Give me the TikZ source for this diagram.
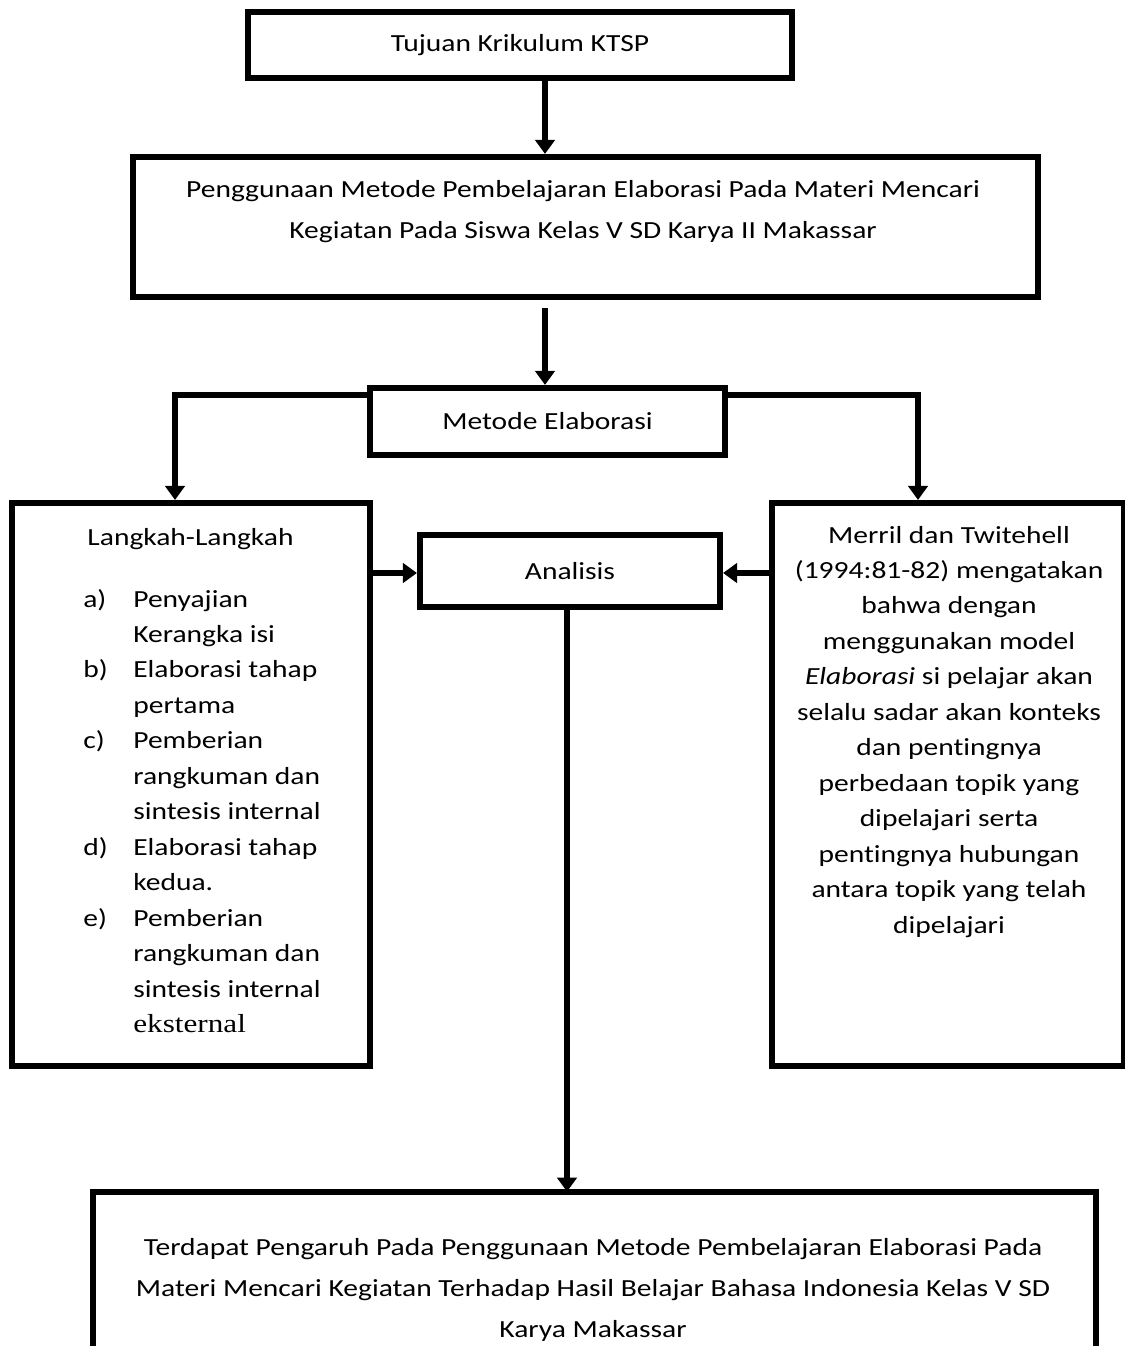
\documentclass[tikz,border=0pt]{standalone}
\usepackage{fontspec}
\setmainfont{Carlito}[FakeStretch=1.2,Ligatures=NoCommon,RawFeature={-calt}]
\newfontfamily\tnrfont{Liberation Serif}[FakeStretch=1.2]
\usetikzlibrary{arrows.meta,calc}
\newcommand\fmid{\fontsize{14}{20.2}\selectfont}
\newcommand\ftop{\fontsize{14}{23.6}\selectfont}
\begin{document}
\begin{tikzpicture}[x=0.02cm,y=-0.02cm,
  box/.style={draw, line width=3.5pt, inner sep=0pt, rectangle},
  txt/.style={inner sep=0pt, font=\fmid},
  arr/.style={line width=3.5pt, line join=miter, -{Triangle[length=8pt,width=11pt]}},
  plain/.style={line width=3.5pt, line join=miter}]
\useasboundingbox (0,0) rectangle (1125,1346);
% boxes
\node[box, minimum width=10.88cm, minimum height=1.32cm, font=\ftop] (box1) at (520,45) {Tujuan Krikulum KTSP};
\node[box, minimum width=18.1cm, minimum height=2.8cm] (box2) at (585.5,227) {};
\node[txt, font=\ftop, anchor=base] (t2) at (583,197) {\begin{tabular}[t]{@{}c@{}}Penggunaan Metode Pembelajaran Elaborasi Pada Materi Mencari\\ Kegiatan Pada Siswa Kelas V SD Karya II Makassar\end{tabular}};
\node[box, minimum width=7.1cm, minimum height=1.34cm, font=\fmid] (met) at (547.5,421.5) {Metode Elaborasi};
\node[box, minimum width=7.16cm, minimum height=11.26cm] (left) at (191,784.5) {};
\node[box, minimum width=6.0cm, minimum height=1.44cm, font=\fmid] (ana) at (570,571) {Analisis};
\node[box, minimum width=7.04cm, minimum height=11.26cm] (right) at (948,784.5) {};
\node[inner sep=0pt, minimum width=20.06cm, minimum height=4.32cm] (bot) at (594.5,1300) {};
% texts
\node[txt, anchor=base] (lh) at (190.5,545) {Langkah-Langkah};
\node[txt, anchor=base west] (list) at (83,607) {\begin{tabular}[t]{@{}l@{}l@{}}
\makebox[1cm][l]{a)} & Penyajian\\
 & Kerangka isi\\
\makebox[1cm][l]{b)} & Elaborasi tahap\\
 & pertama\\
\makebox[1cm][l]{c)} & Pemberian\\
 & rangkuman dan\\
 & sintesis internal\\
\makebox[1cm][l]{d)} & Elaborasi tahap\\
 & kedua.\\
\makebox[1cm][l]{e)} & Pemberian\\
 & rangkuman dan\\
 & sintesis internal\\
 & {\tnrfont\fontsize{14.8}{20.2}\selectfont eksternal}
\end{tabular}};
\node[txt, anchor=base] (rt) at (949,543) {\begin{tabular}[t]{@{}c@{}}
Merril dan Twitehell\\
(1994:81-82) mengatakan\\
bahwa dengan\\
menggunakan model\\
\textit{Elaborasi} si pelajar akan\\
selalu sadar akan konteks\\
dan pent\kern0pt ingnya\\
perbedaan topik yang\\
dipelajari serta\\
pent\kern0pt ingnya hubungan\\
antara topik yang telah\\
dipelajari
\end{tabular}};
\node[txt, font=\ftop, anchor=base] (bt) at (593,1255) {\begin{tabular}[t]{@{}c@{}}
Terdapat Pengaruh Pada Penggunaan Metode Pembelajaran Elaborasi Pada\\
Materi Mencari Kegiatan Terhadap Hasil Belajar Bahasa Indonesia Kelas V SD\\
Karya Makassar
\end{tabular}};
% bottom box (open at the bottom)
\draw[plain] (bot.south west) |- (bot.north east) -- (bot.south east);
% helper coordinates
\coordinate (c1) at (545,0);
\coordinate (c2) at (175,0);
\coordinate (c3) at (918,0);
\coordinate (c4) at (0,573);
\coordinate (c5) at (567,0);
% connectors
\draw[arr] (box1.south -| c1) -- (box2.north -| c1);
\draw[arr] ($(box2.south -| c1)+(0,8)$) -- (met.north -| c1);
\draw[arr] ($(met.north west)+(0,10)$) -| (left.north -| c2);
\draw[arr] ($(met.north east)+(0,10)$) -| (right.north -| c3);
\draw[arr] (left.east |- c4) -- (ana.west |- c4);
\draw[arr] (right.west |- c4) -- (ana.east |- c4);
\draw[arr] ($(ana.south -| c5)+(0,-4)$) -- (bot.north -| c5);
\end{tikzpicture}
\end{document}
